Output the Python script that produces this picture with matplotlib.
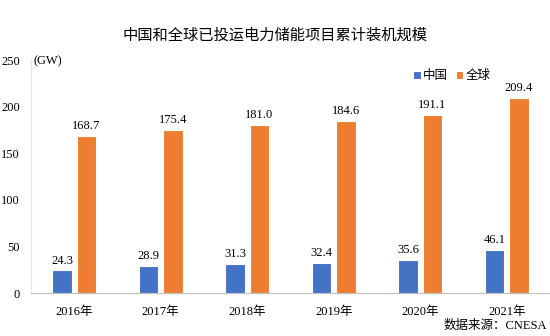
import matplotlib
matplotlib.use("Agg")
import matplotlib.pyplot as plt
import numpy as np

years = ["2016年", "2017年", "2018年", "2019年", "2020年", "2021年"]
china = [24.3, 28.9, 31.3, 32.4, 35.6, 46.1]
world = [168.7, 175.4, 181.0, 184.6, 191.1, 209.4]
yticks = [0, 50, 100, 150, 200, 250]

plt.rcParams['font.family'] = ['Liberation Serif', 'Noto Sans CJK SC']

fig = plt.figure(figsize=(5.5, 3.36), dpi=100)
ax = fig.add_axes([31/550, 1-293/336, 519/550, 232.7/336])

x = np.arange(len(years))
w = 0.225
off = 0.142
ax.bar(x - off, china, w, color="#4472C4", edgecolor="white", linewidth=0.8, label="中国")
ax.bar(x + off, world, w, color="#ED7D31", edgecolor="white", linewidth=0.8, label="全球")

for xi, v in zip(x, china):
    ax.text(xi - off, v + 4, f"{v:.1f}", ha="center", va="bottom", fontsize=9)
for xi, v in zip(x, world):
    ax.text(xi + off, v + 4, f"{v:.1f}", ha="center", va="bottom", fontsize=9)

ax.set_xlim(-0.5, len(years) - 0.5)
ax.set_ylim(0, 250)
ax.set_yticks(yticks)
ax.set_yticklabels([str(t) for t in yticks], fontsize=9)
ax.set_xticks(x)
ax.set_xticklabels(years, fontsize=9)
ax.tick_params(axis="both", length=0)
ax.tick_params(axis="y", pad=8)
ax.tick_params(axis="x", pad=9)
for s in ["top", "right"]:
    ax.spines[s].set_visible(False)
ax.spines["left"].set_color("#e6e6e6")
ax.spines["bottom"].set_color("#bfbfbf")

fig.text(33/550, 1-61/336, "(GW)", fontsize=9, va="center", ha="left")
fig.text(0.5, 1-35/336, "中国和全球已投运电力储能项目累计装机规模", fontsize=11,
         ha="center", va="center", family=["Noto Sans CJK SC"])
fig.text(547/550, 1-326/336, "数据来源：CNESA", fontsize=9, ha="right", va="center")

ax.legend(loc="upper left", bbox_to_anchor=(402/550, 1-58/336), bbox_transform=fig.transFigure,
          ncol=2, frameon=False, handlelength=0.6, handleheight=0.6,
          handletextpad=0.2, columnspacing=0.6, prop={"family": ["Noto Sans CJK SC"], "size": 9})

fig.savefig("out.png", dpi=100)
